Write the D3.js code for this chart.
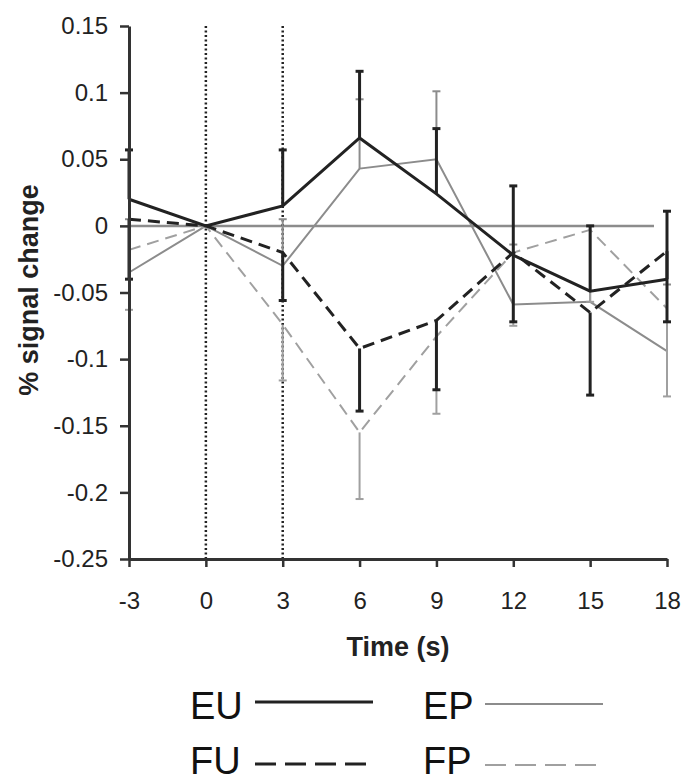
<!DOCTYPE html>
<html>
<head>
<meta charset="utf-8">
<script src="https://cdn.jsdelivr.net/npm/d3@7"></script>
<style>
  body { margin: 0; background: #fff; overflow: hidden; }
  svg { display: block; font-family: "Liberation Sans", Arial, sans-serif; }
</style>
</head>
<body>
<script>
// data
var times = [-3, 0, 3, 6, 9, 12, 15, 18];
var yTicks = [0.15, 0.1, 0.05, 0, -0.05, -0.1, -0.15, -0.2, -0.25];
var markers = [0, 3];   // dotted stimulus lines

var EU = [0.020, 0, 0.015, 0.066, 0.024, -0.022, -0.049, -0.040];
var EU_err = [0.037, 0, 0.042, 0.050, 0.049, 0.052, 0.049, 0.051];
var EP = [-0.035, 0, -0.030, 0.043, 0.050, -0.059, -0.057, -0.094];
var EP_err = [0.040, 0, 0.035, 0.052, 0.051, 0.045, 0.057, 0.050];
var FU = [0.005, 0, -0.020, -0.092, -0.071, -0.020, -0.065, -0.019];
var FU_err = [0.045, 0, 0.036, 0.047, 0.052, 0.052, 0.062, 0.053];
var FP = [-0.018, 0, -0.074, -0.155, -0.083, -0.020, -0.003, -0.062];
var FP_err = [0.045, 0, 0.042, 0.050, 0.058, 0.055, 0.054, 0.066];

var width = 689, height = 783;

var svg = d3.select("body").append("svg")
    .attr("width", width)
    .attr("height", height);

var x = d3.scaleLinear().domain([-3, 18]).range([129, 667]);
var y = d3.scaleLinear().domain([-0.25, 0.15]).range([559, 26]);

// series: dir = +1 error bar up, -1 down
var series = [
  {name: "EP", vals: EP, err: EP_err, dir: 1, color: "#8c8c8c", w: 2, dash: null},
  {name: "FP", vals: FP, err: FP_err, dir: -1, color: "#a0a0a0", w: 2, dash: "12,7"},
  {name: "FU", vals: FU, err: FU_err, dir: -1, color: "#222", w: 3, dash: "12,7"},
  {name: "EU", vals: EU, err: EU_err, dir: 1, color: "#222", w: 3, dash: null}
];

// zero line
svg.append("line")
    .attr("x1", x(-3)).attr("x2", x(18) - 13)
    .attr("y1", y(0)).attr("y2", y(0))
    .attr("stroke", "#8c8c8c").attr("stroke-width", 2.5);

// dotted verticals
svg.selectAll(".marker").data(markers).enter().append("line")
    .attr("class", "marker")
    .attr("x1", d => x(d)).attr("x2", d => x(d))
    .attr("y1", y(0.15)).attr("y2", y(-0.25))
    .attr("stroke", "#222").attr("stroke-width", 2.5)
    .attr("stroke-dasharray", "2,2.5");

var line = d3.line().x(d => x(d.t)).y(d => y(d.v));

series.forEach(function(s) {
  var pts = times.map((t, i) => ({t: t, v: s.vals[i], e: s.err[i]}));
  var g = svg.append("g");
  var bars = pts.filter(p => p.e > 0);
  g.selectAll(".bar").data(bars).enter().append("line")
      .attr("x1", d => x(d.t)).attr("x2", d => x(d.t))
      .attr("y1", d => y(d.v)).attr("y2", d => y(d.v + s.dir * d.e))
      .attr("stroke", s.color).attr("stroke-width", s.w);
  g.selectAll(".cap").data(bars).enter().append("line")
      .attr("x1", d => x(d.t) - 4).attr("x2", d => x(d.t) + 4)
      .attr("y1", d => y(d.v + s.dir * d.e)).attr("y2", d => y(d.v + s.dir * d.e))
      .attr("stroke", s.color).attr("stroke-width", s.w);
  g.append("path")
      .datum(pts)
      .attr("d", line)
      .attr("fill", "none")
      .attr("stroke", s.color)
      .attr("stroke-width", s.w)
      .attr("stroke-dasharray", s.dash);
});

// axes
var yAxis = d3.axisLeft(y).tickValues(yTicks).tickSize(9).tickSizeOuter(0).tickPadding(12)
    .tickFormat(d => String(+d.toFixed(2)));
var xAxis = d3.axisBottom(x).tickValues(times).tickSize(8).tickSizeOuter(0).tickPadding(25)
    .tickFormat(d => String(d));

var ya = svg.append("g").attr("transform", "translate(" + x(-3) + ",0)").call(yAxis);
var xa = svg.append("g").attr("transform", "translate(0," + y(-0.25) + ")").call(xAxis);

[ya, xa].forEach(function(a) {
  a.select(".domain").attr("stroke", "#333").attr("stroke-width", 3);
  a.selectAll(".tick line").attr("stroke", "#333").attr("stroke-width", 2.5);
  a.selectAll("text").attr("font-size", 24).attr("fill", "#222")
      .attr("font-family", "Liberation Sans, Arial, sans-serif");
});

// titles
svg.append("text")
    .attr("transform", "translate(38,290) rotate(-90)")
    .attr("text-anchor", "middle")
    .attr("font-size", 27).attr("font-weight", "bold").attr("fill", "#222")
    .text("% signal change");

svg.append("text")
    .attr("x", 398).attr("y", 656)
    .attr("text-anchor", "middle")
    .attr("font-size", 27).attr("font-weight", "bold").attr("fill", "#222")
    .text("Time (s)");

// legend
var legendPos = {
  EU: [190, 719, 255, 702],
  EP: [423, 719, 485, 704],
  FU: [190, 774, 255, 764],
  FP: [423, 774, 485, 765]
};
series.forEach(function(s) {
  var p = legendPos[s.name];
  svg.append("text")
      .attr("x", p[0]).attr("y", p[1])
      .attr("font-size", 38).attr("fill", "#111")
      .text(s.name);
  svg.append("line")
      .attr("x1", p[2]).attr("x2", p[2] + 118)
      .attr("y1", p[3]).attr("y2", p[3])
      .attr("stroke", s.color).attr("stroke-width", s.w)
      .attr("stroke-dasharray", s.dash ? "21,9" : null);
});
</script>
</body>
</html>
